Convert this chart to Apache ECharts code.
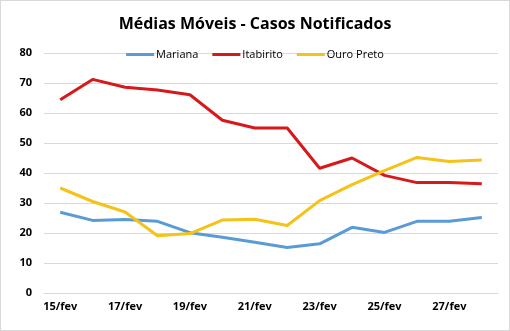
<!DOCTYPE html>
<html><head><meta charset="utf-8">
<script src="https://cdn.jsdelivr.net/npm/echarts@6/dist/echarts.min.js"></script>
<style>html,body{margin:0;padding:0;background:#fff}#c{width:508px;height:329px;border:1px solid #d9d9d9}</style>
</head><body><div id="c"></div>
<script>
const categories = ['15/fev','16/fev','17/fev','18/fev','19/fev','20/fev','21/fev','22/fev','23/fev','24/fev','25/fev','26/fev','27/fev','28/fev'];
const mariana = [26.9,24.2,24.5,23.9,20.1,18.6,16.9,15.2,16.4,21.9,20.2,23.9,23.9,25.2];
const itabirito = [64.4,71.2,68.6,67.7,66.1,57.6,55.0,55.0,41.6,45.0,39.2,36.8,36.8,36.4];
const ouroPreto = [35.0,30.5,27.0,19.1,19.8,24.3,24.6,22.5,30.8,36.1,40.8,45.2,43.8,44.3];
const yTicks = {min:0, max:80, interval:10};

const font = "'Open Sans', 'Liberation Sans', sans-serif";
const chart = echarts.init(document.getElementById('c'), null, {renderer:'canvas'});
chart.setOption({
  animation:false,
  title:{text:'Médias Móveis - Casos Notificados', left:'center', top:10,
    textStyle:{fontFamily:font, fontSize:16, fontWeight:'bold', color:'#000'}},
  legend:{top:43, left:'center', itemWidth:28, itemHeight:3, itemGap:14, icon:'rect',
    textStyle:{fontFamily:font, fontSize:11, color:'#000', padding:[0,0,0,-3]},
    data:['Mariana','Itabirito','Ouro Preto']},
  grid:{left:43, right:11, top:52, bottom:37, containLabel:false},
  xAxis:{type:'category', data:categories, boundaryGap:true,
    axisLine:{lineStyle:{color:'#d9d9d9'}}, axisTick:{show:false},
    axisLabel:{interval:1, fontFamily:font, fontSize:11, fontWeight:'bold', color:'#000', margin:8}},
  yAxis:{type:'value', min:yTicks.min, max:yTicks.max, interval:yTicks.interval,
    axisLine:{show:false}, axisTick:{show:false},
    splitLine:{lineStyle:{color:'#d9d9d9'}},
    axisLabel:{fontFamily:font, fontSize:11, fontWeight:'bold', color:'#000', margin:12}},
  series:[
    {name:'Mariana', type:'line', data:mariana, symbol:'none', lineStyle:{width:3, color:'#5b9bd5'}, itemStyle:{color:'#5b9bd5'}},
    {name:'Itabirito', type:'line', data:itabirito, symbol:'none', lineStyle:{width:3, color:'#d7191c'}, itemStyle:{color:'#d7191c'}},
    {name:'Ouro Preto', type:'line', data:ouroPreto, symbol:'none', lineStyle:{width:3, color:'#f5c218'}, itemStyle:{color:'#f5c218'}}
  ]
});
</script></body></html>
